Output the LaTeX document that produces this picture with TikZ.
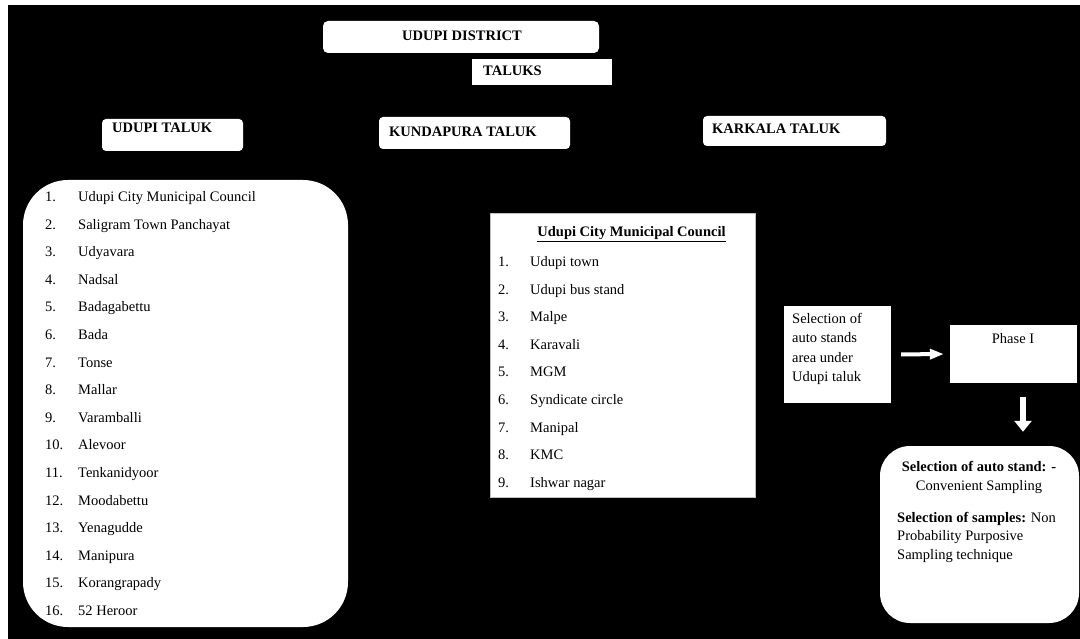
\documentclass[tikz,border=0pt]{standalone}
\usepackage{fontspec}
\setmainfont{Liberation Serif}
\usetikzlibrary{arrows.meta}
\begin{document}
\begin{tikzpicture}[x=1pt,y=-1pt,
  every node/.style={font=\fontsize{14.5pt}{17pt}\selectfont},
  wbox/.style={fill=white,draw=none,inner sep=0pt},
  mlbl/.style={inner sep=0pt,text=black},
  lbl/.style={mlbl,anchor=west,text height=10pt,text depth=3pt},
  hd/.style={lbl,font=\fontsize{14.5pt}{17pt}\selectfont\bfseries},
  warrow/.style={draw=white,line width=4pt,-{Triangle[length=14pt,width=10pt]}},
  wdarrow/.style={draw=white,line width=6.5pt,-{Triangle[length=11pt,width=17pt]}}
]
% page and background
\fill[white] (0,0) rectangle (1080,639);
\fill[black] (8,5) rectangle (1080,639);
\useasboundingbox (0,0) rectangle (1080,639);

% top boxes
\node[wbox,rounded corners=5pt,minimum width=276pt,minimum height=32pt] (dist) at (461,37) {};
\node[hd,anchor=center] (distt) at (462,37) {UDUPI DISTRICT};
\node[wbox,minimum width=140pt,minimum height=26pt] (tal) at (542,72) {};
\node[hd] (talt) at (483,72) {TALUKS};

\node[wbox,rounded corners=4pt,minimum width=141pt,minimum height=32pt] (udt) at (172.5,135) {};
\node[hd] (udtt) at (112,129) {UDUPI TALUK};
\node[wbox,rounded corners=4pt,minimum width=191pt,minimum height=32pt] (kun) at (474.5,133) {};
\node[hd] (kunt) at (389,133) {KUNDAPURA TALUK};
\node[wbox,rounded corners=4pt,minimum width=183pt,minimum height=30pt] (kar) at (794.5,131) {};
\node[hd] (kart) at (712,130) {KARKALA TALUK};

% left list
\node[wbox,rounded corners=45pt,minimum width=325pt,minimum height=447pt] (ulist) at (185.5,403.5) {};
\foreach \n/\t [count=\i from 0] in {1/Udupi City Municipal Council,2/Saligram Town Panchayat,3/Udyavara,4/Nadsal,5/Badagabettu,6/Bada,7/Tonse,8/Mallar,9/Varamballi,10/Alevoor,11/Tenkanidyoor,12/Moodabettu,13/Yenagudde,14/Manipura,15/Korangrapady,16/52 Heroor}{
  \node[lbl] (un\n) at (45,198+\i*27.6) {\n.};
  \node[lbl] (ut\n) at (78,198+\i*27.6) {\t};
}

% middle list
\node[wbox,draw=gray!50,line width=0.8pt,minimum width=265pt,minimum height=284pt] (mlist) at (622.5,355) {};
\node[hd,anchor=center] (mtitle) at (631.5,233) {\underline{Udupi City Municipal Council}};
\foreach \n/\t [count=\i from 0] in {1/Udupi town,2/Udupi bus stand,3/Malpe,4/Karavali,5/MGM,6/Syndicate circle,7/Manipal,8/KMC,9/Ishwar nagar}{
  \node[lbl] (mn\n) at (498,263+\i*27.6) {\n.};
  \node[lbl] (mt\n) at (530,263+\i*27.6) {\t};
}

% right side
\node[wbox,minimum width=107pt,minimum height=97pt] (sel) at (837.5,354.5) {};
\node[mlbl,anchor=north west,align=left,font=\fontsize{14.5pt}{19.5pt}\selectfont] (selt) at (792,313) {Selection of\\auto stands\\area under\\Udupi taluk};
\node[wbox,minimum width=127pt,minimum height=58pt] (ph) at (1013.5,354) {};
\node[lbl,anchor=center] (pht) at (1013,340) {Phase I};
\node[wbox,rounded corners=30pt,minimum width=199pt,minimum height=177pt] (fin) at (979.5,534.5) {};
\node[hd,anchor=center] (f1) at (979,468) {Selection of auto stand: -};
\node[lbl,anchor=center] (f2) at (979,487) {Convenient Sampling};
\node[mlbl,anchor=north west,align=left,font=\fontsize{14.5pt}{18.5pt}\selectfont] (f3) at (897,512) {\textbf{Selection of samples:} Non\\Probability Purposive\\Sampling technique};

% arrows
\draw[warrow,shorten <=10pt,shorten >=6pt] (sel.east) -- (ph.west);
\draw[wdarrow,shorten <=14pt,shorten >=14pt] ([xshift=9.5pt]ph.south) -- ([xshift=43.5pt]fin.north);
\end{tikzpicture}
\end{document}
